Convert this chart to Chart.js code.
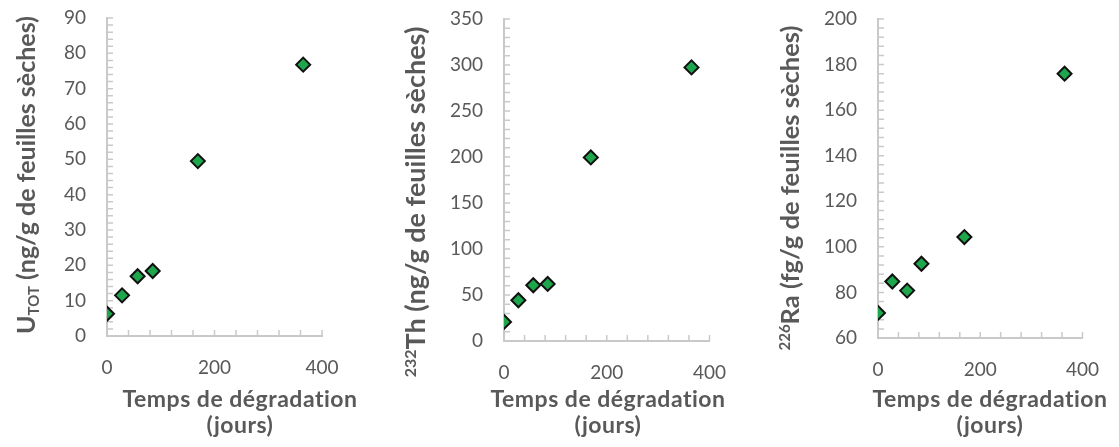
<!DOCTYPE html>
<html>
<head>
<meta charset="utf-8">
<script src="https://cdn.jsdelivr.net/npm/chart.js@4.4.0/dist/chart.umd.min.js"></script>
<style>
  html, body { margin: 0; padding: 0; background: #fff; }
  #wrap { position: relative; width: 1119px; height: 447px; }
  .panel { position: absolute; top: 0; width: 373px; height: 447px; }
</style>
</head>
<body>
<div id="wrap">
  <div class="panel" style="left:0"><canvas id="c0"></canvas></div>
  <div class="panel" style="left:373px"><canvas id="c1"></canvas></div>
  <div class="panel" style="left:746px"><canvas id="c2"></canvas></div>
</div>
<script>
// data
const days = [0, 28, 57, 85, 169, 365];
const uTot = [6.3, 11.5, 16.9, 18.4, 49.5, 76.8];
const th232 = [20.7, 44.3, 60.6, 62.0, 199.5, 297.4];
const ra226 = [71.0, 84.8, 80.8, 92.6, 104.3, 176.0];
const xLabels = [0, 200, 400];
const xTitle = ['Temps de dégradation', '(jours)'];

const textColor = '#595959';
const axisColor = '#c9c9c9';
const fontFamily = 'Lato, "DejaVu Sans", sans-serif';
Chart.defaults.font.family = fontFamily;

const panels = [
  {
    id: 'c0', values: uTot, yMin: 0, yMax: 90, yMajor: 10, yMinor: 2,
    yTitle: [{ text: 'U', size: 25 }, { text: 'TOT', size: 15, dy: 4 }, { text: ' (ng/g de feuilles sèches)', size: 25 }],
    area: { left: 107, right: 322, top: 18, bottom: 336 },
    yTitlePos: { x: 26, y: 175 }, xTitleX: 240
  },
  {
    id: 'c1', values: th232, yMin: 0, yMax: 350, yMajor: 50, yMinor: 10,
    yTitle: [{ text: '232', size: 16, dy: -9 }, { text: 'Th (ng/g de feuilles sèches)', size: 27 }],
    area: { left: 131, right: 342, top: 19, bottom: 341 },
    yTitlePos: { x: 42, y: 202 }, xTitleX: 235
  },
  {
    id: 'c2', values: ra226, yMin: 60, yMax: 200, yMajor: 20, yMinor: 4,
    yTitle: [{ text: '226', size: 15, dy: -9 }, { text: 'Ra (fg/g de feuilles sèches)', size: 25.5 }],
    area: { left: 132, right: 349, top: 19, bottom: 338 },
    yTitlePos: { x: 44, y: 188 }, xTitleX: 244
  }
];

// Excel-style tick marks pointing inside the plot
const innerTicks = {
  id: 'innerTicks',
  beforeDatasetsDraw(chart) {
    const { ctx, chartArea, scales: { x, y } } = chart;
    ctx.save();
    ctx.strokeStyle = axisColor;
    ctx.lineWidth = 1.5;
    ctx.beginPath();
    x.ticks.forEach(t => {
      const px = x.getPixelForValue(t.value);
      ctx.moveTo(px, chartArea.bottom);
      ctx.lineTo(px, chartArea.bottom - 6);
    });
    y.ticks.forEach(t => {
      const py = y.getPixelForValue(t.value);
      ctx.moveTo(chartArea.left, py);
      ctx.lineTo(chartArea.left + 6, py);
    });
    ctx.stroke();
    ctx.restore();
  }
};

function titlePlugin(p) {
  return {
    id: 'axisTitles',
    afterDraw(chart) {
      const ctx = chart.ctx;
      ctx.save();
      ctx.fillStyle = textColor;
      ctx.textBaseline = 'alphabetic';
      // y title, rotated, with sub/superscripts
      const main = p.yTitle.reduce((m, r) => Math.max(m, r.size), 0);
      ctx.translate(p.yTitlePos.x, p.yTitlePos.y);
      ctx.rotate(-Math.PI / 2);
      let total = 0;
      const widths = p.yTitle.map(r => {
        ctx.font = 'bold ' + r.size + 'px ' + fontFamily;
        const w = ctx.measureText(r.text).width;
        total += w;
        return w;
      });
      let cx = -total / 2;
      p.yTitle.forEach((r, i) => {
        ctx.font = 'bold ' + r.size + 'px ' + fontFamily;
        ctx.fillText(r.text, cx, main * 0.36 + (r.dy || 0));
        cx += widths[i];
      });
      ctx.setTransform(1, 0, 0, 1, 0, 0);
      // x title, two lines
      ctx.font = 'bold 23px ' + fontFamily;
      ctx.letterSpacing = '0.5px';
      ctx.textAlign = 'center';
      ctx.fillText(xTitle[0], p.xTitleX, 407);
      ctx.fillText(xTitle[1], p.xTitleX, 433);
      ctx.restore();
    }
  };
}

panels.forEach(p => {
  const yWidth = 60, xHeight = 80, W = 373, H = 447;
  new Chart(document.getElementById(p.id), {
    type: 'scatter',
    data: {
      datasets: [{
        data: days.map((d, i) => ({ x: d, y: p.values[i] })),
        pointStyle: 'rectRot',
        pointRadius: 7,
        pointHoverRadius: 7,
        pointBackgroundColor: '#1ea64c',
        pointBorderColor: '#111',
        pointBorderWidth: 2
      }]
    },
    options: {
      responsive: true,
      maintainAspectRatio: false,
      animation: false,
      layout: {
        padding: {
          left: p.area.left - yWidth,
          right: W - p.area.right,
          top: p.area.top,
          bottom: H - p.area.bottom - xHeight
        }
      },
      plugins: { legend: { display: false }, tooltip: { enabled: false } },
      scales: {
        x: {
          type: 'linear', min: 0, max: 400,
          afterFit: s => { s.height = xHeight; },
          grid: { display: false, drawTicks: false },
          border: { display: true, color: axisColor, width: 2 },
          ticks: {
            stepSize: 40, autoSkip: false, maxRotation: 0, padding: 20,
            color: textColor, font: { size: 19 },
            callback: v => xLabels.includes(v) ? v : ''
          }
        },
        y: {
          min: p.yMin, max: p.yMax,
          afterFit: s => { s.width = yWidth; s.paddingTop = 10; s.paddingBottom = 10; },
          grid: { display: false, drawTicks: false },
          border: { display: true, color: axisColor, width: 2 },
          ticks: {
            stepSize: p.yMinor, autoSkip: false, padding: 21,
            color: textColor, font: { size: 19 },
            callback: v => v % p.yMajor === 0 ? v : ''
          }
        }
      }
    },
    plugins: [innerTicks, titlePlugin(p)]
  });
});
</script>
</body>
</html>
